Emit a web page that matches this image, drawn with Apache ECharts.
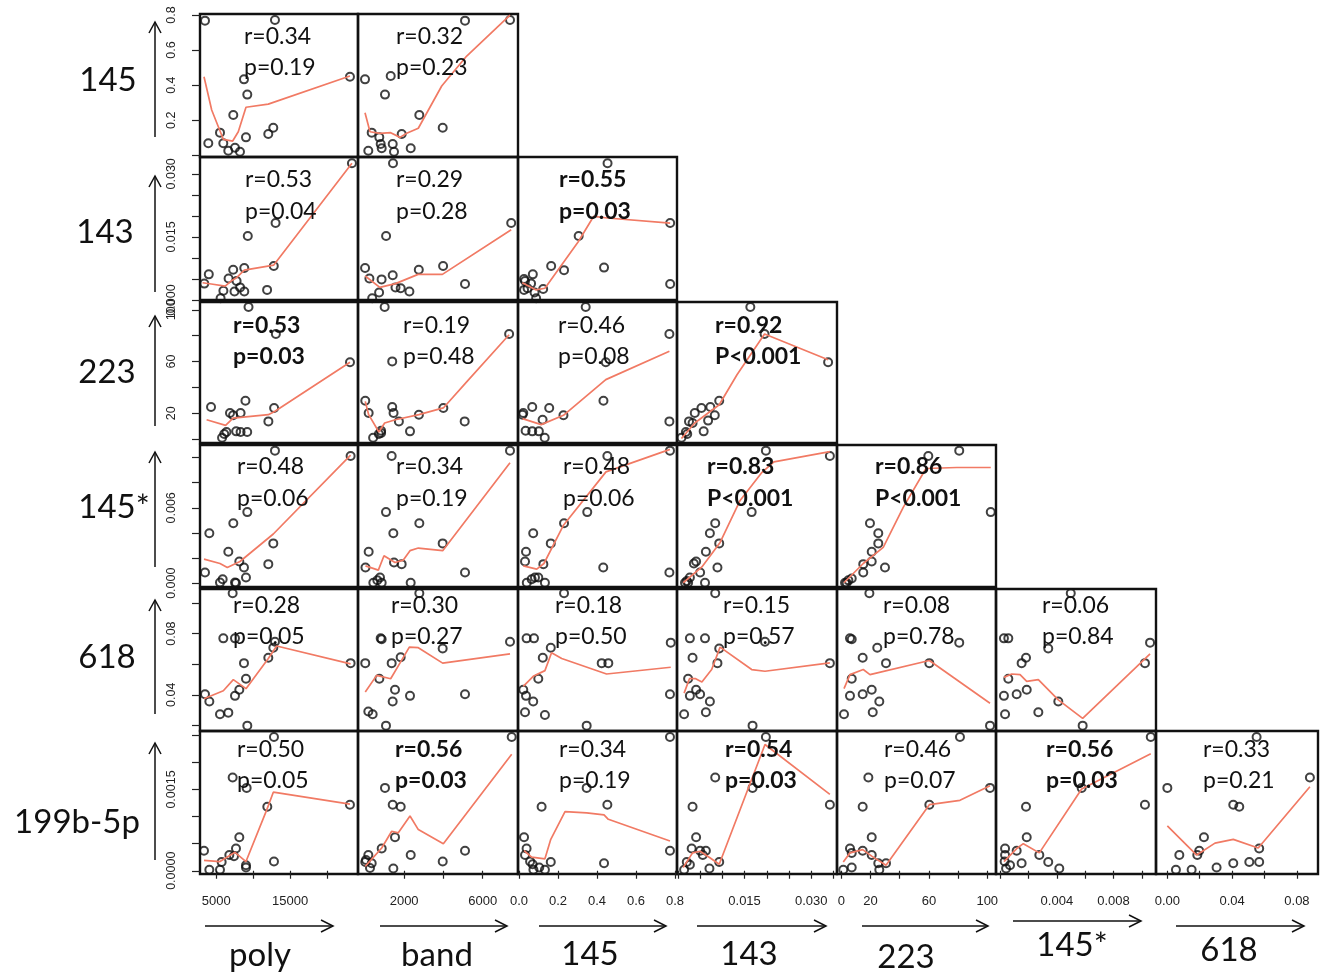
<!DOCTYPE html>
<html>
<head>
<meta charset="utf-8">
<script src="https://cdn.jsdelivr.net/npm/echarts@6/dist/echarts.min.js"></script>
<style>
  html, body { margin: 0; padding: 0; background: #fff; }
  #chart { width: 1320px; height: 975px; }
</style>
</head>
<body>
<div id="chart"></div>
<script>
// Lower-triangle scatter matrix: each row variable against every column variable up to it,
// with a lowess-style fitted line and the Pearson r / p values in each panel.
const rowVars = ['145', '143', '223', '145*', '618', '199b-5p'];
const colVars = ['poly', 'band', '145', '143', '223', '145*', '618'];

// ---- row 145 ----
const pts_145_poly = [[3477,0.768],[12955,0.772],[23110,0.448],[8758,0.433],[9205,0.346],[7309,0.230],[5508,0.129],[3924,0.068],[5955,0.068],[6632,0.026],[7539,0.043],[8216,0.020],[9028,0.102],[12048,0.121],[12725,0.157]];
const fit_145_poly = [[3342,0.448],[4384,0.258],[5955,0.091],[7227,0.081],[7986,0.134],[9028,0.274],[12048,0.292],[23110,0.452]];
const pts_145_band = [[5101,0.768],[7393,0.772],[7,0.433],[1316,0.452],[1025,0.346],[2773,0.230],[348,0.129],[735,0.102],[806,0.064],[857,0.040],[175,0.026],[1418,0.064],[1484,0.020],[1876,0.121],[2335,0.040],[3965,0.157]];
const fit_145_band = [[7,0.243],[261,0.134],[771,0.125],[1316,0.129],[1789,0.102],[2131,0.125],[2722,0.154],[3914,0.395],[5187,0.566],[7393,0.800]];

// ---- row 143 ----
const pts_143_poly = [[23381,0.0325],[13036,0.0183],[9272,0.0152],[12793,0.0081],[8798,0.0076],[7295,0.0072],[6672,0.0051],[3991,0.0061],[3382,0.0039],[7756,0.0045],[8229,0.0030],[5968,0.0022],[7471,0.0020],[8798,0.0020],[5589,0.0004],[11888,0.0024]];
const fit_143_poly = [[3152,0.0041],[4330,0.0038],[6212,0.0033],[7011,0.0045],[7756,0.0053],[8798,0.0071],[12793,0.0083],[23381,0.0325]];
const pts_143_band = [[1433,0.0325],[7454,0.0183],[1081,0.0152],[10,0.0076],[2747,0.0072],[3985,0.0081],[231,0.0051],[1418,0.0059],[852,0.0049],[1560,0.0030],[1825,0.0028],[2268,0.0020],[5101,0.0038],[373,0.0004],[725,0.0018]];
const fit_143_band = [[17,0.0057],[760,0.0030],[1560,0.0039],[2711,0.0061],[3949,0.0061],[7454,0.0167]];
const pts_143_145 = [[0.454,0.0325],[0.775,0.0183],[0.306,0.0152],[0.436,0.0077],[0.231,0.0071],[0.165,0.0081],[0.071,0.0061],[0.026,0.0050],[0.031,0.0045],[0.062,0.0039],[0.044,0.0028],[0.026,0.0024],[0.080,0.0018],[0.088,0.0004],[0.124,0.0026],[0.775,0.0038]];
const fit_143_145 = [[0.017,0.0041],[0.088,0.0024],[0.133,0.0028],[0.303,0.0138],[0.383,0.0199],[0.454,0.0195],[0.775,0.0183]];

// ---- row 223 ----
const pts_223_poly = [[9372,102.1],[13077,81.3],[23115,59.4],[4294,24.8],[8954,29.7],[6863,20.2],[7281,18.4],[8297,20.2],[12061,13.7],[12838,24.1],[6385,5.5],[7700,6.0],[8297,5.5],[9193,5.5],[5788,1.0],[6086,4.0]];
const fit_223_poly = [[3696,15.0],[6266,10.6],[7281,16.3],[12061,18.9],[12957,21.5],[23115,59.4]];
const pts_223_band = [[1008,102.1],[7348,81.3],[1393,60.1],[20,29.7],[193,20.2],[827,6.5],[827,4.7],[714,4.0],[420,1.0],[1393,24.8],[1461,20.2],[1733,13.7],[2299,6.0],[2752,18.9],[3997,24.1],[5084,13.7]];
const fit_223_band = [[20,29.2],[193,18.9],[714,5.5],[1008,12.5],[1552,15.0],[2752,18.9],[3997,24.1],[5242,45.2],[7348,80.7]];
const pts_223_145 = [[0.342,102.1],[0.771,81.3],[0.445,59.4],[0.022,20.2],[0.068,24.8],[0.155,24.1],[0.228,18.4],[0.121,15.0],[0.034,6.5],[0.068,6.0],[0.102,6.0],[0.132,1.0],[0.433,29.7],[0.771,13.7],[0.018,18.9]];
const fit_223_145 = [[0.018,15.8],[0.114,11.2],[0.228,18.4],[0.445,46.0],[0.771,67.9]];
const pts_223_143 = [[0.0163,102.1],[0.0195,81.3],[0.0338,59.4],[0.0038,20.2],[0.0053,24.1],[0.0073,24.8],[0.0093,29.7],[0.0083,18.4],[0.0068,14.3],[0.0025,13.7],[0.0058,6.0],[0.0018,5.5],[0.0021,4.0],[0.0008,1.0],[0.0033,12.5]];
const fit_223_143 = [[0.0008,0.5],[0.0038,12.5],[0.0093,26.6],[0.0133,49.8],[0.0195,81.3],[0.0338,61.4]];

// ---- row 145* ----
const pts_145s_poly = [[12954,0.01055],[23199,0.01012],[9208,0.00566],[7313,0.00478],[4064,0.00398],[12729,0.00317],[6636,0.00251],[8125,0.00173],[8757,0.00125],[12052,0.00152],[3477,0.00085],[9028,0.00045],[5869,0.00032],[5508,0.00005],[7539,0.00005],[7674,0.00002]];
const fit_145s_poly = [[3342,0.00192],[5508,0.00157],[6501,0.00125],[8216,0.00173],[12729,0.00392],[23199,0.0102]];
const pts_145s_band = [[1365,0.01012],[7393,0.01055],[1076,0.00566],[2774,0.00478],[1450,0.00398],[3963,0.00317],[193,0.00251],[1484,0.00165],[1874,0.00152],[30,0.00125],[5101,0.00085],[771,0.00045],[431,0.00004],[856,0.00004],[2333,0.00004],[635,0.00024]];
const fit_145s_band = [[30,0.00138],[686,0.00104],[974,0.00219],[1535,0.00165],[1959,0.00184],[2299,0.00259],[2723,0.0028],[3963,0.00259],[7393,0.00958]];
const pts_145s_145 = [[0.073,0.00398],[0.036,0.00251],[0.031,0.00173],[0.125,0.00152],[0.231,0.00478],[0.163,0.00317],[0.040,0.00004],[0.065,0.00032],[0.099,0.00045],[0.133,0.00004],[0.082,0.00045],[0.453,0.01012],[0.774,0.01055],[0.350,0.00566],[0.432,0.00125],[0.771,0.00085]];
const fit_145s_145 = [[0.022,0.00138],[0.091,0.00112],[0.128,0.00157],[0.227,0.00459],[0.446,0.00886],[0.774,0.01065]];
const pts_145s_143 = [[0.0198,0.01055],[0.0342,0.01012],[0.0166,0.00566],[0.0084,0.00478],[0.0072,0.00398],[0.0093,0.00317],[0.0063,0.00251],[0.0041,0.00173],[0.0036,0.00157],[0.0050,0.00085],[0.0089,0.00125],[0.0061,0.00004],[0.0027,0.00045],[0.0020,0.00018],[0.0016,0.00004],[0.0023,0.00004]];
const fit_145s_143 = [[0.0012,0.00004],[0.0054,0.0013],[0.0095,0.00325],[0.0140,0.00659],[0.0188,0.00878],[0.0216,0.00966],[0.0342,0.01047]];
const pts_145s_223 = [[59.6,0.01012],[80.8,0.01055],[102.4,0.00566],[19.6,0.00478],[25.3,0.00398],[25.3,0.00317],[20.8,0.00251],[20.8,0.00173],[15.0,0.00152],[29.9,0.00125],[15.0,0.00085],[3.6,0.00004],[4.8,0.00023],[7.1,0.00037],[2.5,0.00004]];
const fit_145s_223 = [[1.8,0.00004],[15.0,0.00157],[28.7,0.00285],[42.5,0.00606],[58.0,0.00913],[79.1,0.00921],[102.4,0.00921]];

// ---- row 618 ----
const pts_618_poly = [[7223,0.1064],[5959,0.0769],[7539,0.0769],[12954,0.0747],[12729,0.0708],[8757,0.0607],[12052,0.0642],[9028,0.0505],[8125,0.0433],[7539,0.0393],[3477,0.0404],[4064,0.0356],[5508,0.0272],[6636,0.0283],[9208,0.0198],[23199,0.0607]];
const fit_618_poly = [[3342,0.0374],[5959,0.0426],[7313,0.0499],[9028,0.0440],[12052,0.0637],[13180,0.0719],[23199,0.0602]];
const pts_618_band = [[2774,0.1064],[805,0.0769],[856,0.0763],[3963,0.0703],[7393,0.0747],[1823,0.0646],[1365,0.0607],[20,0.0607],[737,0.0505],[1535,0.0433],[1416,0.0356],[2299,0.0393],[5101,0.0404],[176,0.0290],[397,0.0272],[1076,0.0198]];
const fit_618_band = [[20,0.0418],[601,0.0527],[1314,0.0505],[1823,0.0615],[2265,0.0712],[2723,0.0708],[3963,0.0607],[7393,0.0668]];
const pts_618_145 = [[0.231,0.1064],[0.039,0.0769],[0.077,0.0769],[0.163,0.0708],[0.122,0.0642],[0.424,0.0607],[0.458,0.0607],[0.099,0.0505],[0.022,0.0433],[0.036,0.0393],[0.073,0.0356],[0.031,0.0286],[0.133,0.0268],[0.347,0.0198],[0.778,0.0741],[0.774,0.0404]];
const fit_618_145 = [[0.022,0.0455],[0.073,0.0521],[0.133,0.0558],[0.167,0.0675],[0.219,0.0637],[0.449,0.0536],[0.778,0.0580]];
const pts_618_143 = [[0.0084,0.1064],[0.0027,0.0769],[0.0061,0.0769],[0.0196,0.0747],[0.0093,0.0703],[0.0033,0.0642],[0.0089,0.0607],[0.0342,0.0607],[0.0023,0.0505],[0.0041,0.0433],[0.0027,0.0393],[0.0050,0.0404],[0.0072,0.0356],[0.0014,0.0272],[0.0063,0.0286],[0.0168,0.0198]];
const fit_618_143 = [[0.0014,0.0411],[0.0026,0.0505],[0.0040,0.0505],[0.0054,0.0483],[0.0076,0.0565],[0.0095,0.0712],[0.0166,0.0565],[0.0196,0.0554],[0.0342,0.0609]];
const pts_618_223 = [[19.2,0.1064],[5.9,0.0769],[7.1,0.0763],[80.8,0.0741],[24.6,0.0708],[14.6,0.0642],[30.6,0.0607],[60.3,0.0607],[7.1,0.0505],[5.9,0.0393],[14.6,0.0404],[20.8,0.0433],[26.0,0.0356],[1.8,0.0272],[21.5,0.0286],[101.9,0.0198]];
const fit_618_223 = [[1.8,0.0440],[5.9,0.0532],[15.0,0.0565],[19.6,0.0532],[60.3,0.0624],[101.9,0.0345]];
const pts_618_145s = [[0.00498,0.1064],[0.00026,0.0769],[0.00057,0.0769],[0.00339,0.0703],[0.00182,0.0642],[0.00151,0.0607],[0.00057,0.0505],[0.00026,0.0393],[0.00116,0.0404],[0.00187,0.0433],[0.0041,0.0356],[0.00034,0.0272],[0.00269,0.0286],[0.00582,0.0198],[0.01022,0.0607],[0.01058,0.0741]];
const fit_618_145s = [[0.00026,0.0514],[0.00081,0.0536],[0.00140,0.0532],[0.00187,0.0488],[0.00269,0.0499],[0.0041,0.0367],[0.00582,0.0246],[0.01058,0.0668]];

// ---- row 199b-5p ----
const pts_199_poly = [[12819,0.00247],[7223,0.00172],[9118,0.00153],[11916,0.00118],[8125,0.00062],[3342,0.00037],[7674,0.00041],[6772,0.00029],[7403,0.00027],[12819,0.00017],[5733,0.00016],[9028,0.00010],[9028,0.00006],[4064,0.00002],[5508,0.00002],[23108,0.00122]];
const fit_199_poly = [[3342,0.00019],[5508,0.00017],[7539,0.00034],[9028,0.00017],[11826,0.00112],[12729,0.00145],[23108,0.00123]];
const pts_199_band = [[1025,0.00153],[1418,0.00122],[1825,0.00118],[1535,0.00062],[857,0.00041],[176,0.00029],[20,0.00016],[348,0.00014],[261,0.00005],[1450,0.00004],[2335,0.00029],[3965,0.00017],[5101,0.00037],[7479,0.00247],[58,0.00020]];
const fit_199_band = [[20,0.00008],[857,0.00042],[1367,0.00073],[1703,0.00070],[2299,0.00101],[2722,0.00076],[3997,0.00050],[7479,0.00215]];
const pts_199_145 = [[0.774,0.00247],[0.347,0.00153],[0.116,0.00118],[0.453,0.00122],[0.026,0.00062],[0.039,0.00041],[0.031,0.00029],[0.163,0.00016],[0.070,0.00012],[0.104,0.00006],[0.133,0.00002],[0.074,0.00002],[0.774,0.00037],[0.436,0.00014],[0.057,0.00017]];
const fit_199_145 = [[0.026,0.00037],[0.065,0.00025],[0.133,0.00022],[0.163,0.00058],[0.236,0.00109],[0.347,0.00107],[0.436,0.00103],[0.458,0.00095],[0.774,0.00055]];
const pts_199_143 = [[0.0198,0.00247],[0.0084,0.00172],[0.0168,0.00153],[0.0033,0.00118],[0.0342,0.00122],[0.0041,0.00062],[0.0031,0.00041],[0.0050,0.00037],[0.0063,0.00037],[0.0020,0.00016],[0.0027,0.00011],[0.0014,0.00002],[0.0071,0.00004],[0.0093,0.00016],[0.0056,0.00029]];
const fit_199_143 = [[0.0012,0.00006],[0.0033,0.00033],[0.0050,0.00036],[0.0072,0.00024],[0.0093,0.00012],[0.0196,0.00233],[0.0342,0.00141]];
const pts_199_223 = [[18.5,0.00172],[14.6,0.00118],[20.8,0.00062],[5.9,0.00041],[7.1,0.00033],[14.6,0.00037],[20.8,0.00029],[25.3,0.00014],[30.6,0.00014],[1.3,0.00002],[7.1,0.00006],[26.0,0.00002],[81.3,0.00247],[60.3,0.00122],[101.9,0.00153]];
const fit_199_223 = [[1.3,0.00016],[5.9,0.00033],[14.6,0.00039],[20.8,0.00027],[30.6,0.00010],[60.3,0.00122],[81.3,0.00130],[101.9,0.00157]];
const pts_199_145s = [[0.01063,0.00247],[0.00575,0.00153],[0.01022,0.00122],[0.00182,0.00118],[0.00187,0.00062],[0.00034,0.00041],[0.00116,0.00037],[0.00034,0.00029],[0.00276,0.00029],[0.00339,0.00016],[0.00151,0.00014],[0.00417,0.00004],[0.00041,0.00004],[0.00069,0.00010],[0.00031,0.00017]];
const fit_199_145s = [[0.00026,0.00017],[0.00116,0.00041],[0.00163,0.00050],[0.00276,0.00033],[0.00575,0.00151],[0.01063,0.00216]];
const pts_199_618 = [[0.0551,0.00247],[0.0,0.00153],[0.0407,0.00122],[0.0444,0.00118],[0.088,0.00172],[0.0226,0.00062],[0.0197,0.00037],[0.0185,0.00029],[0.0074,0.00029],[0.0053,0.00002],[0.0150,0.00002],[0.0304,0.00006],[0.0407,0.00014],[0.0506,0.00016],[0.0567,0.00016],[0.0567,0.00041]];
const fit_199_618 = [[0.0,0.00083],[0.0181,0.00029],[0.0294,0.00051],[0.0407,0.00058],[0.0561,0.00042],[0.088,0.00155]];

const rowPoints = [
  [pts_145_poly, pts_145_band],
  [pts_143_poly, pts_143_band, pts_143_145],
  [pts_223_poly, pts_223_band, pts_223_145, pts_223_143],
  [pts_145s_poly, pts_145s_band, pts_145s_145, pts_145s_143, pts_145s_223],
  [pts_618_poly, pts_618_band, pts_618_145, pts_618_143, pts_618_223, pts_618_145s],
  [pts_199_poly, pts_199_band, pts_199_145, pts_199_143, pts_199_223, pts_199_145s, pts_199_618]
];
const rowFits = [
  [fit_145_poly, fit_145_band],
  [fit_143_poly, fit_143_band, fit_143_145],
  [fit_223_poly, fit_223_band, fit_223_145, fit_223_143],
  [fit_145s_poly, fit_145s_band, fit_145s_145, fit_145s_143, fit_145s_223],
  [fit_618_poly, fit_618_band, fit_618_145, fit_618_143, fit_618_223, fit_618_145s],
  [fit_199_poly, fit_199_band, fit_199_145, fit_199_143, fit_199_223, fit_199_145s, fit_199_618]
];

// correlation statistics per panel
const statR = [
  ['r=0.34', 'r=0.32'],
  ['r=0.53', 'r=0.29', 'r=0.55'],
  ['r=0.53', 'r=0.19', 'r=0.46', 'r=0.92'],
  ['r=0.48', 'r=0.34', 'r=0.48', 'r=0.83', 'r=0.86'],
  ['r=0.28', 'r=0.30', 'r=0.18', 'r=0.15', 'r=0.08', 'r=0.06'],
  ['r=0.50', 'r=0.56', 'r=0.34', 'r=0.54', 'r=0.46', 'r=0.56', 'r=0.33']
];
const statP = [
  ['p=0.19', 'p=0.23'],
  ['p=0.04', 'p=0.28', 'p=0.03'],
  ['p=0.03', 'p=0.48', 'p=0.08', 'P<0.001'],
  ['p=0.06', 'p=0.19', 'p=0.06', 'P<0.001', 'P<0.001'],
  ['p=0.05', 'p=0.27', 'p=0.50', 'p=0.57', 'p=0.78', 'p=0.84'],
  ['p=0.05', 'p=0.03', 'p=0.19', 'p=0.03', 'p=0.07', 'p=0.03', 'p=0.21']
];
const statSignificant = [
  [false, false],
  [false, false, true],
  [true, false, false, true],
  [false, false, false, true, true],
  [false, false, false, false, false, false],
  [false, true, false, true, false, true, false]
];

// axis ticks and tick labels
const xTickVals = [
  [5000, 10000, 15000, 20000],
  [2000, 4000, 6000],
  [0, 0.2, 0.4, 0.6, 0.8],
  [0, 0.005, 0.01, 0.015, 0.02, 0.025, 0.03, 0.035],
  [0, 20, 40, 60, 80, 100],
  [0, 0.002, 0.004, 0.006, 0.008, 0.01],
  [0, 0.02, 0.04, 0.06, 0.08]
];
const xLabelVals = [
  [5000, 15000],
  [2000, 6000],
  [0, 0.2, 0.4, 0.6, 0.8],
  [0.015, 0.03],
  [0, 20, 60, 100],
  [0.004, 0.008],
  [0, 0.04, 0.08]
];
const xLabelDecimals = [0, 0, 1, 3, 0, 3, 2];
const yTickVals = [
  [0, 0.2, 0.4, 0.6, 0.8],
  [0, 0.005, 0.01, 0.015, 0.02, 0.025, 0.03],
  [0, 20, 40, 60, 80, 100],
  [0, 0.002, 0.004, 0.006, 0.008, 0.01],
  [0.02, 0.04, 0.06, 0.08, 0.1],
  [0, 0.0005, 0.001, 0.0015, 0.002, 0.0025]
];
const yLabelVals = [
  [0.2, 0.4, 0.6, 0.8],
  [0, 0.015, 0.03],
  [20, 60, 100],
  [0, 0.006],
  [0.04, 0.08],
  [0, 0.0015]
];
const yLabelDecimals = [1, 3, 0, 3, 2, 4];

// axis extents of each variable
const xRange = [[2800, 24200], [-350, 7800], [-0.005, 0.81], [-0.0002, 0.0358], [-3, 106], [-0.0003, 0.011], [-0.007, 0.093]];
const yRange = [[-0.01, 0.806], [0, 0.034], [-3, 106], [-0.0003, 0.011], [0.0163, 0.1092], [-0.00006, 0.00258]];

// ---- layout ----
const colBounds = [[200, 358], [358, 518], [518, 677], [677, 837], [837, 996], [996, 1156], [1156, 1318]];
const rowBounds = [[14, 157], [157, 300], [302, 443], [445, 587], [589, 731], [731, 874]];
const statX = [
  [244, 396],
  [245, 396, 559],
  [233, 403, 558, 715],
  [237, 396, 563, 707, 875],
  [233, 391, 555, 723, 883, 1042],
  [237, 395, 559, 725, 884, 1046, 1203]
];
const statRY = [37, 180, 326, 467, 606, 750];
const statPY = [68, 212, 357, 499, 637, 781];
const rowLabelPos = [[108, 80], [105, 232], [107, 372], [114, 507], [107, 657], [77, 822]];
const colLabelPos = [[260, 955], [437, 955], [590, 954], [749, 954], [906, 957], [1072, 945], [1229, 950]];
const upArrows = [[137, 22], [292, 176], [426, 316], [567, 452], [714, 600], [860, 743]];
const rightArrows = [[205, 333, 926], [380, 507, 926], [539, 666, 926], [697, 826, 926], [862, 988, 926], [1013, 1141, 921], [1176, 1304, 926]];

const INK = '#111';
const FIT = '#f17a64';
const BIG_FONT = 'Lato, "Open Sans", sans-serif';
const TICK_FONT = '"Liberation Sans", Arial, sans-serif';

const grids = [], xAxes = [], yAxes = [], series = [], graphics = [];
let k = 0;
for (let r = 0; r < rowVars.length; r++) {
  for (let c = 0; c <= r + 1; c++) {
    const [x0, x1] = colBounds[c];
    const [y0, y1] = rowBounds[r];
    const isBottom = r === rowVars.length - 1;
    const isLeft = c === 0;
    grids.push({
      left: x0, top: y0, width: x1 - x0, height: y1 - y0,
      show: true, borderColor: INK, borderWidth: 2.4, backgroundColor: 'transparent'
    });
    xAxes.push({
      type: 'value', gridIndex: k, min: xRange[c][0], max: xRange[c][1],
      axisLine: { show: false }, splitLine: { show: false },
      axisTick: { show: isBottom, length: 8, lineStyle: { color: '#222', width: 1.2 }, customValues: xTickVals[c] },
      axisLabel: {
        show: isBottom, customValues: xLabelVals[c], margin: 21,
        formatter: v => Number(v).toFixed(xLabelDecimals[c]),
        fontSize: 13, color: '#222', fontFamily: TICK_FONT
      }
    });
    yAxes.push({
      type: 'value', gridIndex: k, min: yRange[r][0], max: yRange[r][1],
      axisLine: { show: false }, splitLine: { show: false },
      axisTick: { show: isLeft, length: 8, lineStyle: { color: '#222', width: 1.2 }, customValues: yTickVals[r] },
      axisLabel: {
        show: isLeft, customValues: yLabelVals[r], rotate: 90, margin: 22,
        formatter: v => Number(v).toFixed(yLabelDecimals[r]),
        fontSize: 12.5, color: '#222', fontFamily: TICK_FONT
      }
    });
    series.push({
      type: 'scatter', xAxisIndex: k, yAxisIndex: k, data: rowPoints[r][c],
      symbol: 'circle', symbolSize: 8, clip: false, silent: true, z: 3,
      itemStyle: { color: 'rgba(255,255,255,0)', borderColor: INK, borderWidth: 2 }
    });
    series.push({
      type: 'line', xAxisIndex: k, yAxisIndex: k, data: rowFits[r][c],
      symbol: 'none', showSymbol: false, clip: false, silent: true, z: 4,
      lineStyle: { color: FIT, width: 1.7 }
    });
    const bold = statSignificant[r][c];
    const statFont = (bold ? 'bold ' : '') + '23px ' + BIG_FONT;
    graphics.push({
      type: 'text', silent: true, z: 10,
      style: { text: statR[r][c], x: statX[r][c], y: statRY[r], font: statFont, fill: INK, textAlign: 'left', textVerticalAlign: 'middle' }
    });
    graphics.push({
      type: 'text', silent: true, z: 10,
      style: { text: statP[r][c], x: statX[r][c], y: statPY[r], font: statFont, fill: INK, textAlign: 'left', textVerticalAlign: 'middle' }
    });
    k++;
  }
}

// variable names and direction arrows
rowVars.forEach((name, i) => {
  graphics.push({
    type: 'text', silent: true,
    style: { text: name, x: rowLabelPos[i][0], y: rowLabelPos[i][1], font: '33px ' + BIG_FONT, fill: INK, textAlign: 'center', textVerticalAlign: 'middle' }
  });
  const [yb, yt] = upArrows[i];
  graphics.push({ type: 'line', silent: true, shape: { x1: 155, y1: yb, x2: 155, y2: yt }, style: { stroke: INK, lineWidth: 1.5 } });
  graphics.push({ type: 'polyline', silent: true, shape: { points: [[149, yt + 11], [155, yt], [161, yt + 11]] }, style: { stroke: INK, lineWidth: 1.5, fill: null } });
});
colVars.forEach((name, i) => {
  graphics.push({
    type: 'text', silent: true,
    style: { text: name, x: colLabelPos[i][0], y: colLabelPos[i][1], font: '33px ' + BIG_FONT, fill: INK, textAlign: 'center', textVerticalAlign: 'middle' }
  });
  const [xa, xb, ya] = rightArrows[i];
  graphics.push({ type: 'line', silent: true, shape: { x1: xa, y1: ya, x2: xb, y2: ya }, style: { stroke: INK, lineWidth: 1.5 } });
  graphics.push({ type: 'polyline', silent: true, shape: { points: [[xb - 12, ya - 6], [xb, ya], [xb - 12, ya + 6]] }, style: { stroke: INK, lineWidth: 1.5, fill: null } });
});

const chart = echarts.init(document.getElementById('chart'), null, { renderer: 'canvas' });
chart.setOption({
  animation: false,
  backgroundColor: '#fff',
  grid: grids,
  xAxis: xAxes,
  yAxis: yAxes,
  series: series,
  graphic: { elements: graphics }
});
</script>
</body>
</html>
